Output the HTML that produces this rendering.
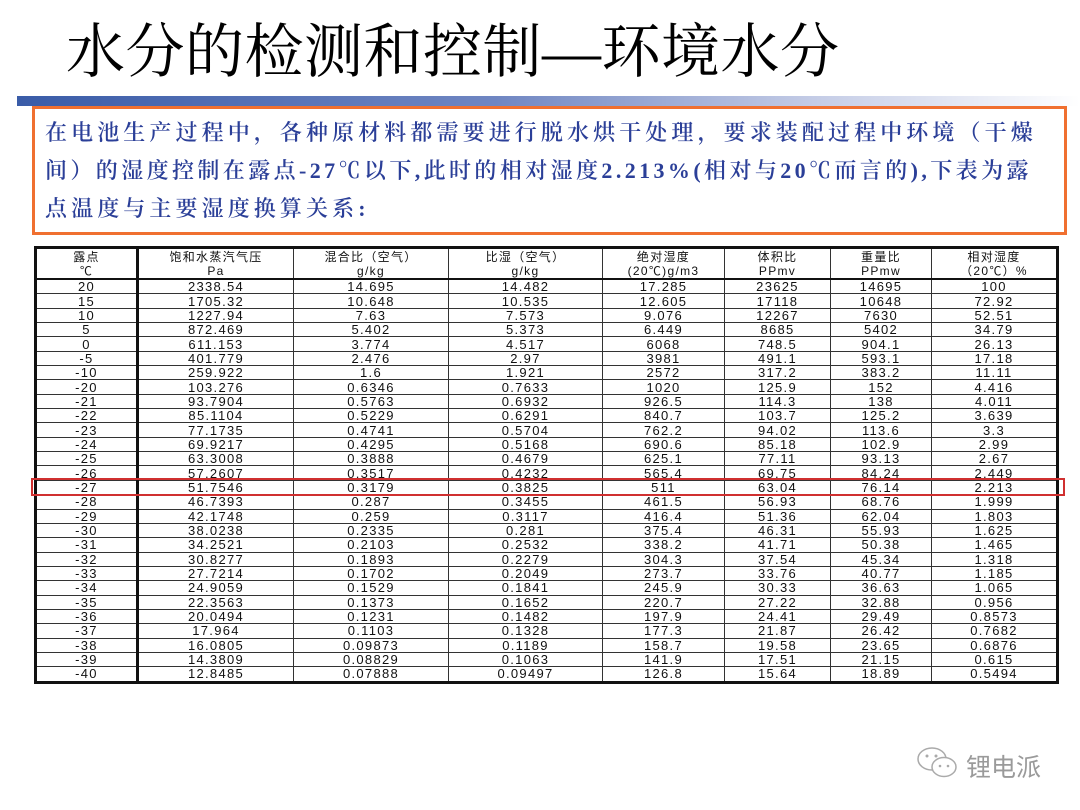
<!DOCTYPE html>
<html><head><meta charset="utf-8"><style>
body{margin:0;width:1080px;height:810px;background:#fff;position:relative;overflow:hidden;font-family:"Liberation Sans","Noto Sans CJK SC",sans-serif}
.title{position:absolute;left:66px;top:12px;font-family:"Liberation Serif","Noto Serif CJK SC",serif;font-size:59px;line-height:80px;color:#000;white-space:nowrap;letter-spacing:0.5px}
.bar{position:absolute;left:17px;top:96px;width:1063px;height:10px;background:linear-gradient(90deg,#3a5ca8 0%,#6f86c2 45%,#c4cce6 75%,#fff 100%)}
.box{position:absolute;left:32px;top:106px;width:1029px;height:123px;border:3px solid #f07030}
.p{position:absolute;left:45px;top:114px;font-family:"Liberation Serif","Noto Serif CJK SC",serif;font-size:22px;line-height:38px;color:#2b3f98;letter-spacing:4.1px;font-weight:600;white-space:nowrap}
table{position:absolute;left:34px;top:246px;border-collapse:collapse;border:3px solid #111;table-layout:fixed}
td{border:1px solid #333;padding:0;text-align:center;font-size:13px;letter-spacing:1.3px;color:#111;height:13.35px;line-height:13px;white-space:nowrap;overflow:hidden}
tr.h td{height:29px;line-height:14px;font-size:12px;border-bottom:2px solid #111}
td.c1{border-right:3px solid #111}
.red{position:absolute;left:31px;top:478px;width:1030px;height:14px;border:2px solid #d03030}
.wm{position:absolute;left:966px;top:748px;font-size:25px;color:#9a9a9a;font-family:"Noto Sans CJK SC",sans-serif}
</style></head><body>
<div class="title">水分的检测和控制—环境水分</div>
<div class="bar"></div>
<div class="box"></div>
<div class="p"><div>在电池生产过程中，各种原材料都需要进行脱水烘干处理，要求装配过程中环境（干燥</div><div style="letter-spacing:3.4px">间）的湿度控制在露点-27℃以下,此时的相对湿度2.213%(相对与20℃而言的),下表为露</div><div>点温度与主要湿度换算关系:</div></div>
<table>
<colgroup><col style="width:102px"><col style="width:156px"><col style="width:155px"><col style="width:154px"><col style="width:122px"><col style="width:106px"><col style="width:101px"><col style="width:126px"></colgroup>
<tr class="h"><td class="c1">露点<br>℃</td><td>饱和水蒸汽气压<br>Pa</td><td>混合比（空气）<br>g/kg</td><td>比湿（空气）<br>g/kg</td><td>绝对湿度<br>(20℃)g/m3</td><td>体积比<br>PPmv</td><td>重量比<br>PPmw</td><td>相对湿度<br>（20℃）%</td></tr>
<tr><td class="c1">20</td><td>2338.54</td><td>14.695</td><td>14.482</td><td>17.285</td><td>23625</td><td>14695</td><td>100</td></tr>
<tr><td class="c1">15</td><td>1705.32</td><td>10.648</td><td>10.535</td><td>12.605</td><td>17118</td><td>10648</td><td>72.92</td></tr>
<tr><td class="c1">10</td><td>1227.94</td><td>7.63</td><td>7.573</td><td>9.076</td><td>12267</td><td>7630</td><td>52.51</td></tr>
<tr><td class="c1">5</td><td>872.469</td><td>5.402</td><td>5.373</td><td>6.449</td><td>8685</td><td>5402</td><td>34.79</td></tr>
<tr><td class="c1">0</td><td>611.153</td><td>3.774</td><td>4.517</td><td>6068</td><td>748.5</td><td>904.1</td><td>26.13</td></tr>
<tr><td class="c1">-5</td><td>401.779</td><td>2.476</td><td>2.97</td><td>3981</td><td>491.1</td><td>593.1</td><td>17.18</td></tr>
<tr><td class="c1">-10</td><td>259.922</td><td>1.6</td><td>1.921</td><td>2572</td><td>317.2</td><td>383.2</td><td>11.11</td></tr>
<tr><td class="c1">-20</td><td>103.276</td><td>0.6346</td><td>0.7633</td><td>1020</td><td>125.9</td><td>152</td><td>4.416</td></tr>
<tr><td class="c1">-21</td><td>93.7904</td><td>0.5763</td><td>0.6932</td><td>926.5</td><td>114.3</td><td>138</td><td>4.011</td></tr>
<tr><td class="c1">-22</td><td>85.1104</td><td>0.5229</td><td>0.6291</td><td>840.7</td><td>103.7</td><td>125.2</td><td>3.639</td></tr>
<tr><td class="c1">-23</td><td>77.1735</td><td>0.4741</td><td>0.5704</td><td>762.2</td><td>94.02</td><td>113.6</td><td>3.3</td></tr>
<tr><td class="c1">-24</td><td>69.9217</td><td>0.4295</td><td>0.5168</td><td>690.6</td><td>85.18</td><td>102.9</td><td>2.99</td></tr>
<tr><td class="c1">-25</td><td>63.3008</td><td>0.3888</td><td>0.4679</td><td>625.1</td><td>77.11</td><td>93.13</td><td>2.67</td></tr>
<tr><td class="c1">-26</td><td>57.2607</td><td>0.3517</td><td>0.4232</td><td>565.4</td><td>69.75</td><td>84.24</td><td>2.449</td></tr>
<tr><td class="c1">-27</td><td>51.7546</td><td>0.3179</td><td>0.3825</td><td>511</td><td>63.04</td><td>76.14</td><td>2.213</td></tr>
<tr><td class="c1">-28</td><td>46.7393</td><td>0.287</td><td>0.3455</td><td>461.5</td><td>56.93</td><td>68.76</td><td>1.999</td></tr>
<tr><td class="c1">-29</td><td>42.1748</td><td>0.259</td><td>0.3117</td><td>416.4</td><td>51.36</td><td>62.04</td><td>1.803</td></tr>
<tr><td class="c1">-30</td><td>38.0238</td><td>0.2335</td><td>0.281</td><td>375.4</td><td>46.31</td><td>55.93</td><td>1.625</td></tr>
<tr><td class="c1">-31</td><td>34.2521</td><td>0.2103</td><td>0.2532</td><td>338.2</td><td>41.71</td><td>50.38</td><td>1.465</td></tr>
<tr><td class="c1">-32</td><td>30.8277</td><td>0.1893</td><td>0.2279</td><td>304.3</td><td>37.54</td><td>45.34</td><td>1.318</td></tr>
<tr><td class="c1">-33</td><td>27.7214</td><td>0.1702</td><td>0.2049</td><td>273.7</td><td>33.76</td><td>40.77</td><td>1.185</td></tr>
<tr><td class="c1">-34</td><td>24.9059</td><td>0.1529</td><td>0.1841</td><td>245.9</td><td>30.33</td><td>36.63</td><td>1.065</td></tr>
<tr><td class="c1">-35</td><td>22.3563</td><td>0.1373</td><td>0.1652</td><td>220.7</td><td>27.22</td><td>32.88</td><td>0.956</td></tr>
<tr><td class="c1">-36</td><td>20.0494</td><td>0.1231</td><td>0.1482</td><td>197.9</td><td>24.41</td><td>29.49</td><td>0.8573</td></tr>
<tr><td class="c1">-37</td><td>17.964</td><td>0.1103</td><td>0.1328</td><td>177.3</td><td>21.87</td><td>26.42</td><td>0.7682</td></tr>
<tr><td class="c1">-38</td><td>16.0805</td><td>0.09873</td><td>0.1189</td><td>158.7</td><td>19.58</td><td>23.65</td><td>0.6876</td></tr>
<tr><td class="c1">-39</td><td>14.3809</td><td>0.08829</td><td>0.1063</td><td>141.9</td><td>17.51</td><td>21.15</td><td>0.615</td></tr>
<tr><td class="c1">-40</td><td>12.8485</td><td>0.07888</td><td>0.09497</td><td>126.8</td><td>15.64</td><td>18.89</td><td>0.5494</td></tr>
</table>
<div class="red"></div>
<svg style="position:absolute;left:914px;top:743px" width="48" height="40" viewBox="0 0 48 40">
<ellipse cx="18" cy="16" rx="14" ry="11" fill="none" stroke="#aaa" stroke-width="1.5"/>
<ellipse cx="30" cy="24" rx="12" ry="9.5" fill="#fff" stroke="#aaa" stroke-width="1.5"/>
<circle cx="13" cy="13" r="1.5" fill="#aaa"/><circle cx="22" cy="13" r="1.5" fill="#aaa"/>
<circle cx="26" cy="23" r="1.3" fill="#aaa"/><circle cx="34" cy="23" r="1.3" fill="#aaa"/>
</svg>
<div class="wm">锂电派</div>
</body></html>
